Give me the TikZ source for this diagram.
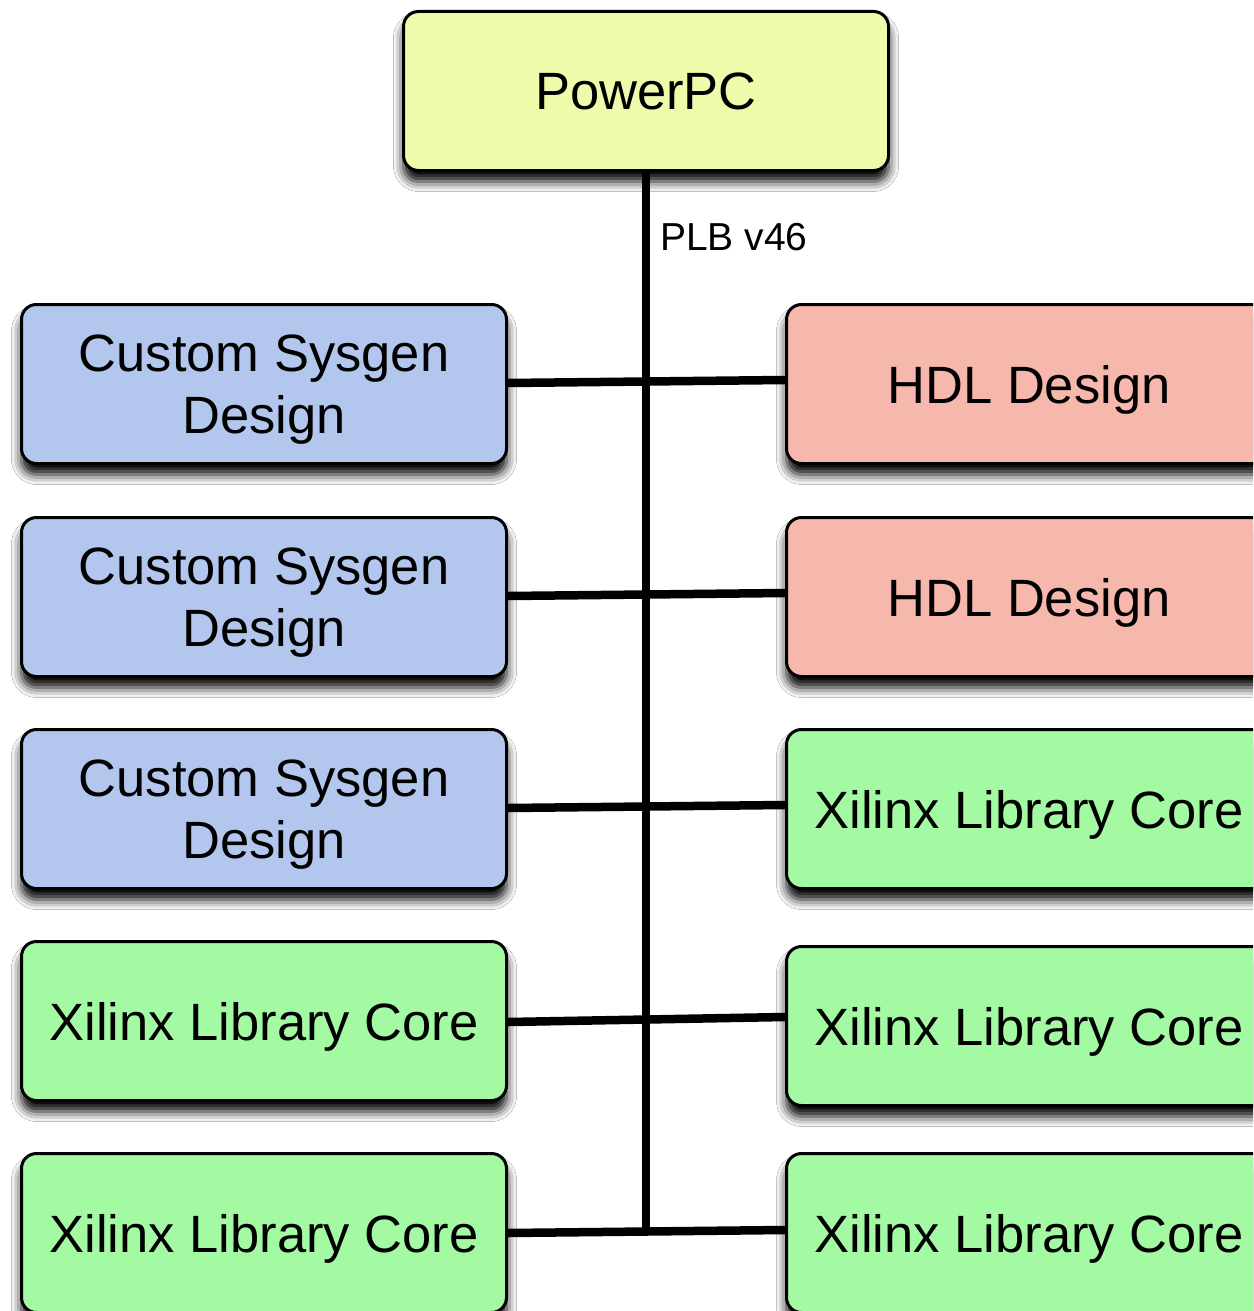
\documentclass[tikz,border=0pt]{standalone}
\usepackage{fontspec}
\setmainfont{Liberation Sans}
\usetikzlibrary{shadows.blur,calc}
\definecolor{ppcfill}{RGB}{237,252,170}
\definecolor{sysfill}{RGB}{179,199,238}
\definecolor{hdlfill}{RGB}{246,184,173}
\definecolor{xilfill}{RGB}{163,250,163}
\begin{document}
\begin{tikzpicture}[x=1pt,y=1pt,
  box/.style={draw=black, line width=3pt, rounded corners=15pt,
    minimum width=485pt, minimum height=159pt, inner sep=0pt, align=center,
    text depth=0pt,
    font=\fontsize{52.5}{61.5}\selectfont,
    blur shadow={shadow xshift=0pt, shadow yshift=-11pt, shadow blur radius=10pt, shadow opacity=100}},
  sysbox/.style={box, fill=sysfill},
  hdlbox/.style={box, fill=hdlfill},
  xilbox/.style={box, fill=xilfill},
  bus/.style={line width=8.5pt},
  buslabel/.style={anchor=base west, inner sep=0pt, font=\fontsize{39}{46}\selectfont}]
\useasboundingbox (0,0) rectangle (1253,-1311);
\clip (0,0) rectangle (1253,-1311);
\fill[white] (0,0) rectangle (1253,-1311);

\node[box, fill=ppcfill] (P) at (646,-91) {PowerPC};

\node[sysbox] (L1) at (264,-384) {Custom Sysgen\\Design};
\node[sysbox] (L2) at (264,-597) {Custom Sysgen\\Design};
\node[sysbox] (L3) at (264,-809) {Custom Sysgen\\Design};
\node[xilbox] (L4) at (264,-1021) {Xilinx Library Core};
\node[xilbox] (L5) at (264,-1233) {Xilinx Library Core};

\node[hdlbox] (R1) at (1029,-384) {HDL Design};
\node[hdlbox] (R2) at (1029,-597) {HDL Design};
\node[xilbox] (R3) at (1029,-809) {Xilinx Library Core};
\node[xilbox] (R4) at (1029,-1026) {Xilinx Library Core};
\node[xilbox] (R5) at (1029,-1233) {Xilinx Library Core};

\draw[bus] (P.south) -- (P.south |- L5.east);
\node[buslabel] (lbl) at ($(P.south)+(14,-78)$) {PLB v46};

\draw[bus] ($(L1.east)+(0,1)$) -- ($(R1.west)+(0,4)$);
\draw[bus] ($(L2.east)+(0,1)$) -- ($(R2.west)+(0,4)$);
\draw[bus] ($(L3.east)+(0,1)$) -- ($(R3.west)+(0,4)$);
\draw[bus] ($(L4.east)+(0,-1)$) -- ($(R4.west)+(0,9)$);
\draw[bus] ($(L5.east)+(0,0)$) -- ($(R5.west)+(0,3)$);
\end{tikzpicture}
\end{document}
